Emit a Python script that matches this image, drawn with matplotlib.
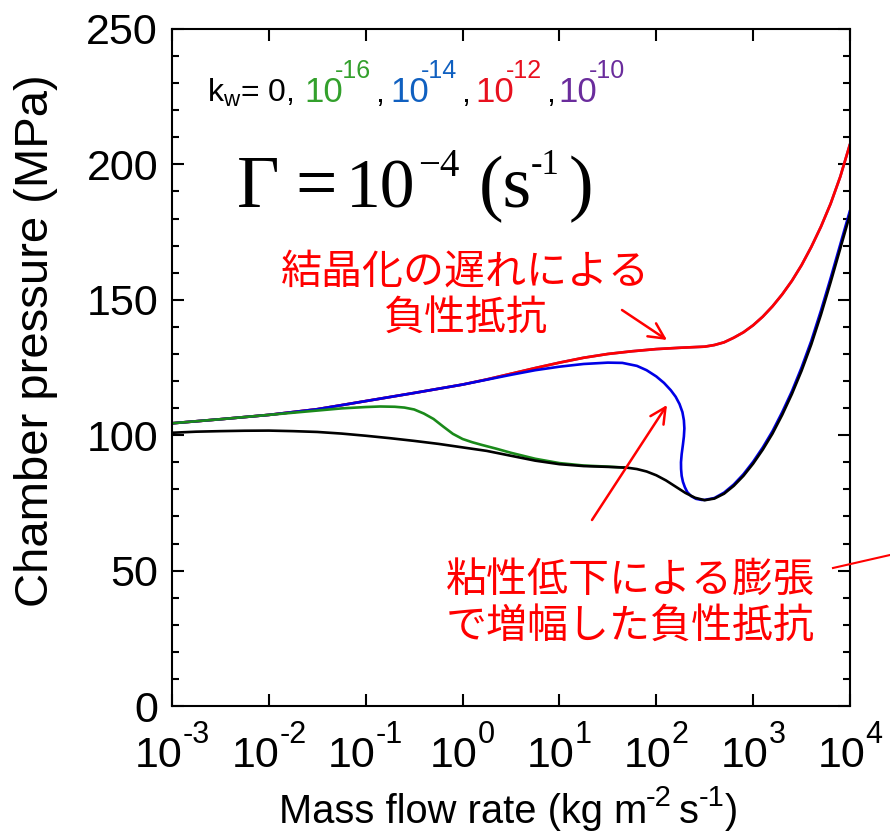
import matplotlib
matplotlib.use('Agg')
import matplotlib.pyplot as plt
from matplotlib.ticker import MultipleLocator, NullLocator, FixedLocator

# log10 of mass flow rate (kg m^-2 s^-1) and chamber pressure (MPa)
black_logq = [-3, -2.75, -2.5, -2.25, -2, -1.75, -1.5, -1.25, -1, -0.75, -0.5, -0.25, 0, 0.25, 0.5, 0.75,
              1.0, 1.25, 1.5, 1.7, 1.8, 1.9, 2.0, 2.1, 2.2, 2.3, 2.4, 2.5, 2.6, 2.7, 2.8, 2.9, 3.0, 3.1,
              3.2, 3.3, 3.4, 3.5, 3.6, 3.7, 3.8, 3.9, 4.0]
black_p = [100.9, 101.3, 101.5, 101.65, 101.7, 101.5, 101.2, 100.6, 99.8, 98.9, 97.9, 96.8, 95.5, 94.2,
           92.4, 90.6, 89.3, 88.6, 88.3, 88.0, 87.5, 86.6, 85.2, 83.3, 81.0, 78.7, 76.9, 76.0, 76.6, 78.4,
           81.3, 85.0, 89.5, 94.7, 100.6, 107.5, 115.2, 123.8, 133.5, 144.5, 156.5, 169.0, 181.5]

green_logq = [-3, -2.5, -2, -1.5, -1.25, -1.0, -0.85, -0.7, -0.6, -0.5, -0.4, -0.3, -0.2, -0.1, 0.0,
              0.1, 0.2, 0.35, 0.5, 0.75, 1.0, 1.25, 1.5, 1.7]
green_p = [104.4, 105.9, 107.5, 109.1, 109.9, 110.4, 110.6, 110.5, 110.2, 109.5, 108.0, 106.0, 103.2,
           100.5, 98.6, 97.4, 96.4, 95.0, 93.5, 91.3, 89.7, 88.8, 88.4, 88.0]

blue_logq = [-3, -2.5, -2, -1.5, -1, -0.5, 0, 0.25, 0.5, 0.75, 1.0, 1.25, 1.5, 1.65, 1.8, 1.9, 2.0,
             2.08, 2.15, 2.2, 2.24, 2.27, 2.285, 2.29, 2.285, 2.275, 2.262, 2.255, 2.256, 2.262, 2.275,
             2.295, 2.32, 2.36, 2.41, 2.47, 2.5, 2.6, 2.7, 2.8, 2.9, 3.0, 3.1, 3.2, 3.3, 3.4, 3.5, 3.6,
             3.7, 3.8, 3.9, 4.0]
blue_p = [104.4, 105.9, 107.5, 109.6, 112.6, 115.6, 118.7, 120.5, 122.3, 124.0, 125.3, 126.3, 126.8,
          126.7, 125.6, 124.0, 121.7, 119.3, 116.6, 114.2, 111.5, 108.5, 105.5, 102.5, 99.5, 96.5, 93.0,
          90.0, 87.5, 85.0, 82.8, 80.8, 79.0, 77.5, 76.5, 76.1, 76.1, 76.8, 78.8, 81.8, 85.6, 90.2, 95.5,
          101.5, 108.5, 116.2, 125.0, 134.8, 146.0, 158.0, 170.5, 183.0]

red_logq = [-3, -2.5, -2, -1.5, -1, -0.5, 0, 0.25, 0.5, 0.75, 1.0, 1.25, 1.5, 1.75, 2.0, 2.25, 2.5,
            2.6, 2.7, 2.8, 2.9, 3.0, 3.1, 3.2, 3.3, 3.4, 3.5, 3.6, 3.7, 3.8, 3.9, 4.0]
red_p = [104.4, 105.9, 107.5, 109.6, 112.6, 115.6, 118.7, 120.6, 122.7, 124.8, 126.8, 128.6, 130.0,
         131.0, 131.8, 132.3, 132.7, 133.3, 134.3, 136.0, 138.0, 140.6, 143.8, 147.6, 152.0, 157.0,
         162.8, 169.5, 177.0, 185.5, 195.5, 207.5]
purple_logq = red_logq
purple_p = red_p

decades = [-3, -2, -1, 0, 1, 2, 3, 4]
kw_labels = ['-16', '-14', '-12', '-10']
kw_colors = ['#33a02c', '#1060c0', '#e8101e', '#6a2c9c']

W, H = 890, 835

def fx(px):
   return px / W

def fy(py):
   return 1 - py / H

plt.rcParams['font.family'] = ['Liberation Sans', 'Noto Sans CJK JP', 'DejaVu Sans']
plt.rcParams['mathtext.fontset'] = 'custom'
plt.rcParams['mathtext.rm'] = 'Liberation Sans'
plt.rcParams['mathtext.it'] = 'Liberation Sans:italic'
plt.rcParams['mathtext.bf'] = 'Liberation Sans:bold'

fig = plt.figure(figsize=(8.9, 8.35), dpi=100)
ax = fig.add_axes([fx(172), fy(706), 678 / W, 677 / H])

lw = 1.9
style = dict(lw=lw, solid_joinstyle='round', solid_capstyle='round')
ax.plot([10 ** v for v in purple_logq], purple_p, color='#7030a0', **style)
ax.plot([10 ** v for v in red_logq], red_p, color='#ff0000', **style)
ax.plot([10 ** v for v in blue_logq], blue_p, color='#0000e6', **style)
ax.plot([10 ** v for v in green_logq], green_p, color='#1a8a1a', **style)
ax.plot([10 ** v for v in black_logq], black_p, color='black', **style)

ax.set_xscale('log')
ax.set_xlim(1e-3, 1e4)
ax.set_ylim(0, 250)
ax.xaxis.set_major_locator(FixedLocator([10.0 ** e for e in decades]))
ax.xaxis.set_minor_locator(NullLocator())
ax.yaxis.set_major_locator(MultipleLocator(50))
ax.yaxis.set_minor_locator(MultipleLocator(10))
ax.tick_params(which='both', direction='in', top=True, right=True, width=1.5, labelsize=31, pad=10)
ax.tick_params(axis='x', labelbottom=False)
ax.tick_params(which='major', length=8.5)
ax.tick_params(which='minor', length=5)
for s in ax.spines.values():
   s.set_linewidth(1.5)

# x tick labels as 10 + raised exponent
for e in decades:
   w10 = 1.112 * 31 / 0.72
   wexp = (0.333 * (e < 0) + 0.556 * len(str(abs(e)))) * 22 / 0.72
   x0 = -(w10 + wexp) / 2
   ax.annotate('10', xy=(10.0 ** e, 0), xycoords=('data', 'axes fraction'), xytext=(x0, -61),
               textcoords='offset pixels', fontsize=31, ha='left', va='baseline', annotation_clip=False)
   ax.annotate(str(e), xy=(10.0 ** e, 0), xycoords=('data', 'axes fraction'), xytext=(x0 + w10, -37),
               textcoords='offset pixels', fontsize=22, ha='left', va='baseline', annotation_clip=False)

# x axis label, built from pieces so the exponents use plain hyphens
fig.text(fx(279), fy(823), 'Mass flow rate (kg m', fontsize=28.7, va='baseline')
fig.text(fx(646), fy(806), '-2', fontsize=21, va='baseline')
fig.text(fx(679), fy(823), 's', fontsize=28.7, va='baseline')
fig.text(fx(699), fy(806), '-1', fontsize=21, va='baseline')
fig.text(fx(725), fy(823), ')', fontsize=28.7, va='baseline')

ax.set_ylabel('Chamber pressure (MPa)', fontsize=34)
ax.yaxis.set_label_coords(-0.168, 0.54)

# k_w legend text
fig.text(fx(207), fy(102), 'k$_\\mathrm{w}$= 0,', fontsize=23, va='baseline')
xs = [304, 390, 475, 558]
for i in range(4):
   fig.text(fx(xs[i]), fy(102), '10', fontsize=25, color=kw_colors[i], va='baseline')
   fig.text(fx(xs[i] + 31), fy(78), kw_labels[i], fontsize=18, color=kw_colors[i], va='baseline')
   if i < 3:
      fig.text(fx(xs[i] + 71), fy(102), ',', fontsize=23, va='baseline')

# Gamma = 10^-4 (s^-1), Times-like pieces
serif = ['Liberation Serif']
fig.text(fx(237), fy(207), 'Γ', fontsize=53, family=serif, va='baseline')
fig.text(fx(295), fy(207), '=', fontsize=53, family=serif, va='baseline')
fig.text(fx(346), fy(207), '10', fontsize=50, family=serif, va='baseline')
fig.text(fx(418), fy(176), '\u22124', fontsize=28, family=serif, va='baseline')
fig.text(fx(479), fy(207), '(s', fontsize=53, family=serif, va='baseline')
fig.text(fx(531), fy(174), '-1', fontsize=25, family=serif, va='baseline')
fig.text(fx(569), fy(207), ')', fontsize=53, family=serif, va='baseline')

# annotations
jp = ['Noto Sans CJK JP']
fig.text(fx(465), fy(295), '結晶化の遅れによる\n負性抵抗', fontsize=29.5, color='#ff0000',
         family=jp, ha='center', va='center', multialignment='center', linespacing=1.15)
fig.text(fx(630), fy(603), '粘性低下による膨張\nで増幅した負性抵抗', fontsize=29.5, color='#ff0000',
         family=jp, ha='center', va='center', multialignment='center', linespacing=1.15)

arrow = dict(arrowstyle='->', color='#ff0000', lw=1.8, mutation_scale=28, shrinkA=0, shrinkB=0)
ax.annotate('', xy=(fx(667), fy(340)), xytext=(fx(622), fy(310)),
            xycoords='figure fraction', textcoords='figure fraction', arrowprops=arrow)
ax.annotate('', xy=(fx(667), fy(405)), xytext=(fx(592), fy(520)),
            xycoords='figure fraction', textcoords='figure fraction', arrowprops=arrow)
fig.add_artist(plt.Line2D([fx(833), fx(890)], [fy(568), fy(555)], color='#ff0000', lw=1.5))

fig.savefig('out.png', dpi=100)
